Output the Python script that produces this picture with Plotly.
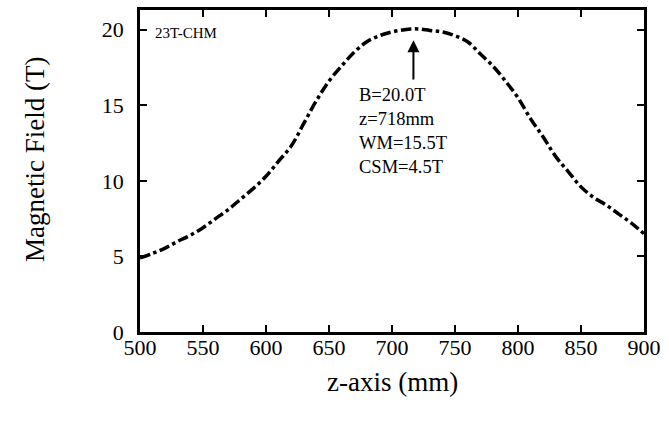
import plotly.graph_objects as go

z_mm = [500, 510, 520, 530, 540, 550, 560, 570, 580, 590, 600, 610, 620, 630, 640,
        650, 660, 670, 680, 690, 700, 710, 720, 730, 740, 750, 760, 770, 780, 790,
        800, 810, 820, 830, 840, 850, 860, 870, 880, 890, 900]
b_field = [4.9, 5.2, 5.55, 6.0, 6.4, 6.9, 7.5, 8.1, 8.8, 9.5, 10.3, 11.3, 12.3, 13.8, 15.3,
           16.6, 17.6, 18.5, 19.2, 19.6, 19.85, 20.0, 20.05, 19.95, 19.85, 19.6, 19.2, 18.4, 17.6, 16.6,
           15.5, 14.1, 12.9, 11.6, 10.6, 9.6, 8.9, 8.4, 7.8, 7.2, 6.5]
x_ticks = [500, 550, 600, 650, 700, 750, 800, 850, 900]
y_ticks = [0, 5, 10, 15, 20]
info_text = "B=20.0T<br>z=718mm<br>WM=15.5T<br>CSM=4.5T"

FONT = "Liberation Serif"

fig = go.Figure()
fig.add_trace(go.Scatter(x=z_mm, y=b_field, mode="lines",
                         line=dict(color="black", width=3.5, dash="dashdot", shape="spline"),
                         showlegend=False))

axis_common = dict(showgrid=False, zeroline=False, showline=True, linecolor="black",
                   linewidth=2.5, mirror="ticks", ticks="inside", ticklen=7, tickwidth=2,
                   tickcolor="black", automargin=False,
                   tickfont=dict(family=FONT, size=22, color="black"))

fig.update_xaxes(range=[500, 900], tickvals=x_ticks, ticklabelstandoff=-6, **axis_common)
fig.update_yaxes(range=[0, 21.3], tickvals=y_ticks, ticklabelstandoff=9, **axis_common)

fig.add_annotation(x=717, y=19.3, ax=717, ay=16.6, xref="x", yref="y", axref="x", ayref="y",
                   showarrow=True, arrowhead=2, arrowsize=1.2, arrowwidth=2, arrowcolor="black", text="")
fig.add_annotation(x=672, y=16.45, xref="x", yref="y", xanchor="left", yanchor="top",
                   text=info_text, showarrow=False, align="left",
                   font=dict(family=FONT, size=18.5, color="black"))
fig.add_annotation(x=510, y=19.8, xref="x", yref="y", xanchor="left", yanchor="middle",
                   text="23T-CHM", showarrow=False, font=dict(family=FONT, size=15, color="black"))

pw = 669 - 140 - 25
ph = 428 - 10 - 96
fig.add_annotation(x=(392 - 140) / pw, y=(332 - 382) / ph, xref="paper", yref="paper",
                   xanchor="center", yanchor="middle", text="z-axis (mm)", showarrow=False,
                   font=dict(family=FONT, size=27, color="black"))
fig.add_annotation(x=(35 - 140) / pw, y=(332 - 160) / ph, xref="paper", yref="paper",
                   xanchor="center", yanchor="middle", text="Magnetic Field (T)",
                   showarrow=False, textangle=-90,
                   font=dict(family=FONT, size=27, color="black"))

fig.update_layout(width=669, height=428, margin=dict(l=140, r=25, t=10, b=96, autoexpand=False),
                  plot_bgcolor="white", paper_bgcolor="white")

fig.write_html("out.html", config={"displayModeBar": False},
               post_script="document.body.style.margin='0';")
